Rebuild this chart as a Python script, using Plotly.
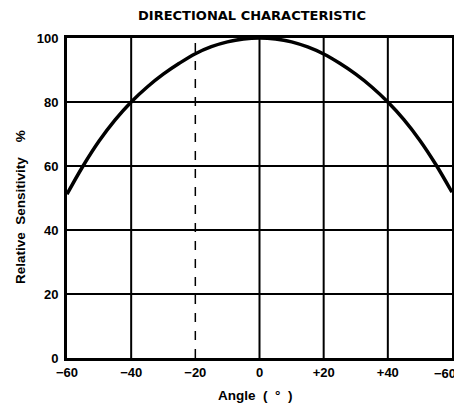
import plotly.graph_objects as go

# Data (relative sensitivity vs angle)
angles = [-60, -55, -50, -45, -40, -35, -30, -25, -20, -15, -10, -5, 0,
          5, 10, 15, 20, 25, 30, 35, 40, 45, 50, 55, 60]
sensitivity = [51.2, 60, 67.8, 74.4, 80, 84.7, 88.7, 92.1, 95.1, 97.3, 98.8, 99.7, 100,
               99.7, 98.8, 97.2, 95, 92.1, 88.7, 84.7, 80, 74.5, 68, 60.4, 51.8]

x_ticks = [-60, -40, -20, 0, 20, 40, 60]
x_labels = ["\u221260", "\u221240", "\u221220", "0", "+20", "+40", "\u221260"]
y_ticks = [0, 20, 40, 60, 80, 100]

tick_font = dict(family="Liberation Sans", size=13, color="black", weight="bold")
label_font = dict(family="Liberation Sans", size=13.5, color="black", weight="bold")

fig = go.Figure()
fig.add_trace(go.Scatter(x=angles, y=sensitivity, mode="lines",
                         line=dict(color="black", width=3.5, shape="spline"),
                         showlegend=False, hoverinfo="skip"))

# grid lines (the -20 one is broken in the original print)
for t in x_ticks[1:-1]:
    fig.add_shape(type="line", xref="x", yref="paper", x0=t, x1=t, y0=0, y1=1,
                  line=dict(color="black", width=1.5 if t == -20 else 2,
                            dash="dash" if t == -20 else "solid"),
                  layer="below")
for t in y_ticks[1:-1]:
    fig.add_shape(type="line", xref="paper", yref="y", x0=0, x1=1, y0=t, y1=t,
                  line=dict(color="black", width=2), layer="below")

fig.update_layout(
    width=454, height=406,
    margin=dict(l=59, r=10, t=30, b=56),
    paper_bgcolor="white", plot_bgcolor="white",
    title=dict(text="DIRECTIONAL CHARACTERISTIC", x=244 / 454, xanchor="center",
               y=1 - 7 / 406, yanchor="middle", yref="container",
               font=dict(family="DejaVu Sans", size=13, color="black", weight="bold")),
    # last tick label is drawn as an annotation so it stays inside the page
    xaxis=dict(range=[-60, 60], tickvals=x_ticks, ticktext=x_labels[:-1] + [""],
               showgrid=False, zeroline=False, showline=True, mirror=True,
               linecolor="black", linewidth=3, ticks="", tickfont=tick_font,
               automargin=False),
    yaxis=dict(range=[0, 100], tickvals=y_ticks, showgrid=False, zeroline=False,
               showline=True, mirror=True, linecolor="black", linewidth=3,
               ticks="", tickfont=tick_font, ticklabelstandoff=3, automargin=False),
    annotations=[
        dict(text=x_labels[-1], xref="paper", yref="paper",
             x=(457 - 67) / 385, y=(358 - 365) / 320, showarrow=False,
             xanchor="right", yanchor="top", font=tick_font,
             borderpad=0),
        dict(text="Relative  Sensitivity    %", xref="paper", yref="paper",
             x=(20 - 67) / 385, y=(358 - 207) / 320, textangle=-90, showarrow=False,
             xanchor="center", yanchor="middle", font=label_font),
        dict(text="Angle  (  \u00b0  )", xref="paper", yref="paper",
             x=(255 - 67) / 385, y=(358 - 395) / 320, showarrow=False,
             xanchor="center", yanchor="middle", font=label_font),
    ],
)

fig.write_html("out.html")
